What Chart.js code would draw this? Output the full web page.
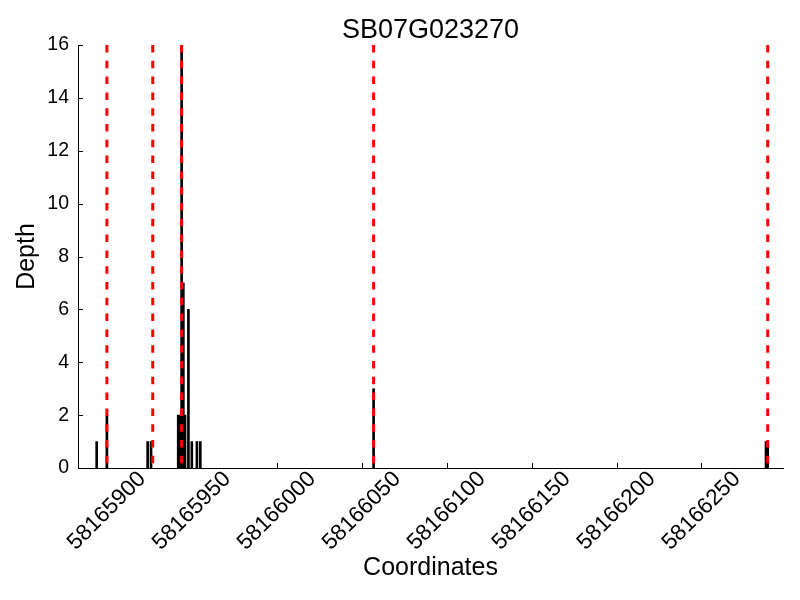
<!DOCTYPE html>
<html>
<head>
  <meta charset="utf-8">
  <title>SB07G023270 depth</title>
  <script src="https://cdn.jsdelivr.net/npm/chart.js@4.4.1/dist/chart.umd.min.js"></script>
<style>
html, body{
	margin: 0;
	padding: 0;
	background: #fff;
}
#wrap{
	width: 800px;
	height: 600px;
}
</style>
</head>
<body>
  <div id="wrap">
	<canvas id="depthChart" width="800" height="600"></canvas>
  </div>

<script>
//////////////////////////////////////////////////
////////////////Chart data////////////////////////
var chartTitle = "SB07G023270";
var xTitle = "Coordinates";
var yTitle = "Depth";

//read depth per coordinate
var coords = [58165894, 58165900, 58165924, 58165926, 58165942, 58165943, 58165944, 58165945, 58165946,
              58165948, 58165950, 58165953, 58165955, 58166057, 58166288, 58166289];
var depths = [1, 2, 1, 1, 2, 2, 16, 7, 2,
              6, 1, 1, 1, 3, 1, 1];

//red dashed lines (feature boundaries)
var markers = [58165900, 58165927, 58165944, 58166057, 58166289];

//axis ticks
var xTicks = [58165900, 58165950, 58166000, 58166050, 58166100, 58166150, 58166200, 58166250];
var yTicks = [0, 2, 4, 6, 8, 10, 12, 14, 16];
var xMin = 58165883, xMax = 58166298;
var yMin = 0, yMax = 16;
////////////////Chart data////////////////////////
//////////////////////////////////////////////////

var fontFamily = '"Liberation Sans", Arial, sans-serif';
Chart.defaults.font.family = fontFamily;
Chart.defaults.color = "#000";

//bars as x/y points
var barPoints = [];
for (var i = 0; i < coords.length; i++)
  barPoints.push({x: coords[i], y: depths[i]});

var datasets = [{
  type: "bar",
  label: "depth",
  data: barPoints,
  backgroundColor: "#000",
  borderWidth: 0,
  barThickness: 2,
  order: 2
}];

//one vertical line per marker, drawn top to bottom
for (var j = 0; j < markers.length; j++)
{
  datasets.push({
    type: "line",
    label: "marker" + j,
    data: [{x: markers[j], y: yMax}, {x: markers[j], y: yMin}],
    borderColor: "#ff0000",
    borderWidth: 3,
    borderDash: [7.5, 8.3],
    borderCapStyle: "butt",
    pointRadius: 0,
    fill: false,
    order: 1
  });
}

//inward tick marks like the original plot
var innerTicks = {
  id: "innerTicks",
  beforeDatasetsDraw: function(chart) {
    var ctx = chart.ctx, area = chart.chartArea;
    var sx = chart.scales.x, sy = chart.scales.y;
    ctx.save();
    ctx.strokeStyle = "#000";
    ctx.lineWidth = 1;
    sx.ticks.forEach(function(t) {
      var px = Math.round(sx.getPixelForValue(t.value)) + 0.5;
      ctx.beginPath();
      ctx.moveTo(px, area.bottom);
      ctx.lineTo(px, area.bottom - 5);
      ctx.stroke();
    });
    sy.ticks.forEach(function(t) {
      var py = Math.round(sy.getPixelForValue(t.value)) + 0.5;
      ctx.beginPath();
      ctx.moveTo(area.left, py);
      ctx.lineTo(area.left + 5, py);
      ctx.stroke();
    });
    ctx.restore();
  }
};

//x tick labels: rotated 45 deg, box centred under the tick (matplotlib style)
var xLabels = {
  id: "xLabels",
  afterDraw: function(chart) {
    var ctx = chart.ctx, sx = chart.scales.x;
    ctx.save();
    ctx.font = "22.5px " + fontFamily;
    ctx.fillStyle = "#000";
    ctx.textAlign = "center";
    ctx.textBaseline = "middle";
    sx.ticks.forEach(function(t) {
      var px = sx.getPixelForValue(t.value);
      ctx.save();
      ctx.translate(px, chart.chartArea.bottom + 43);
      ctx.rotate(-Math.PI / 4);
      ctx.fillText(String(t.value), 0, 0);
      ctx.restore();
    });
    ctx.restore();
  }
};

//title centred over the plot area
var plotTitle = {
  id: "plotTitle",
  afterDraw: function(chart) {
    var ctx = chart.ctx, area = chart.chartArea;
    ctx.save();
    ctx.font = "27px " + fontFamily;
    ctx.fillStyle = "#000";
    ctx.textAlign = "center";
    ctx.textBaseline = "alphabetic";
    ctx.fillText(chartTitle, (area.left + area.right) / 2, 37.5);
    ctx.restore();
  }
};

var options = {
  responsive: false,
  animation: false,
  layout: {padding: {top: 45, right: 17, left: 0, bottom: 0}},
  plugins: {
    legend: {display: false},
    tooltip: {enabled: false}
  },
  scales: {
    x: {
      type: "linear",
      min: xMin,
      max: xMax,
      offset: false,
      grid: {display: false, drawTicks: false, offset: false},
      border: {display: true, color: "#000", width: 1},
      afterBuildTicks: function(scale) {
        scale.ticks = xTicks.map(function(v) { return {value: v}; });
      },
      afterFit: function(scale) { scale.height = 132; },
      ticks: {display: false},
      title: {
        display: true,
        text: xTitle,
        font: {size: 25},
        padding: {top: 0, bottom: 17}
      }
    },
    y: {
      type: "linear",
      min: yMin,
      max: yMax,
      grid: {display: false, drawTicks: false},
      border: {display: true, color: "#000", width: 1},
      afterBuildTicks: function(scale) {
        scale.ticks = yTicks.map(function(v) { return {value: v}; });
      },
      afterFit: function(scale) { scale.width = 78; },
      ticks: {
        padding: 9,
        font: {size: 19.5},
        callback: function(v) { return String(v); }
      },
      title: {
        display: true,
        text: yTitle,
        font: {size: 25},
        padding: {top: 12, bottom: 0}
      }
    }
  }
};

var depthChart = new Chart(document.getElementById("depthChart").getContext("2d"), {
  type: "bar",
  data: {datasets: datasets},
  options: options,
  plugins: [innerTicks, xLabels, plotTitle]
});
</script>
</body>
</html>
